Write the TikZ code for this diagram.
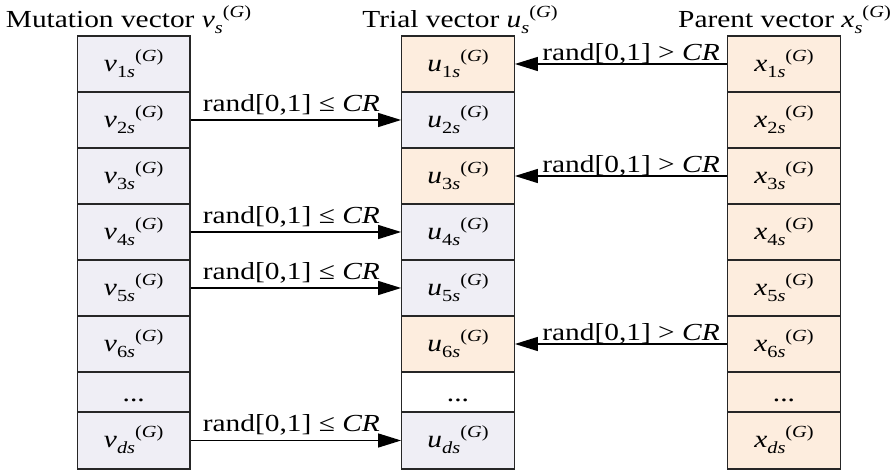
\documentclass[tikz,border=0pt]{standalone}
\usepackage{fontspec}
\setmainfont{Liberation Serif}[FakeStretch=1.2]
\usetikzlibrary{arrows.meta,calc}
\definecolor{lav}{RGB}{239,238,245}
\definecolor{peach}{RGB}{253,237,222}
\newcommand\vecel[2]{\textit{#1}\raisebox{-6bp}{\fontsize{17bp}{17bp}\selectfont #2}\raisebox{10bp}{\fontsize{17bp}{17bp}\selectfont(\textit{G})}}
\begin{document}
\begin{tikzpicture}[x=1bp,y=-1bp,
  every node/.style={font=\fontsize{24.5bp}{29bp}\selectfont},
  cell/.style={draw=black!85,line width=1.3bp,minimum width=112.5bp,minimum height=56bp,inner sep=0pt,
    text height=20bp,text depth=5.4bp,align=center},
  lavcell/.style={cell,fill=lav},
  peachcell/.style={cell,fill=peach},
  whitecell/.style={cell,fill=white},
  arr/.style={line width=1.3bp,-{Triangle[length=23bp,width=14bp]}},
  lbl/.style={anchor=base,inner sep=0pt},
  ttl/.style={anchor=base,inner sep=0pt}]
\useasboundingbox (0,0) rectangle (894,474);
% titles
\node[ttl] (tv) at (128.5,28) {Mutation vector \vecel{v}{\textit{s}}};
\node[ttl] (tu) at (460,28) {Trial vector \vecel{u}{\textit{s}}};
\node[ttl] (tx) at (784.5,28) {Parent vector \vecel{x}{\textit{s}}};
% mutation column
\node[lavcell] (v1) at (133.75,64) {\vecel{v}{1\textit{s}}};
\node[lavcell] (v2) at (133.75,120) {\vecel{v}{2\textit{s}}};
\node[lavcell] (v3) at (133.75,176) {\vecel{v}{3\textit{s}}};
\node[lavcell] (v4) at (133.75,232) {\vecel{v}{4\textit{s}}};
\node[lavcell] (v5) at (133.75,288) {\vecel{v}{5\textit{s}}};
\node[lavcell] (v6) at (133.75,344) {\vecel{v}{6\textit{s}}};
\node[lavcell,minimum height=40bp,text height=22bp,text depth=4bp] (v7) at (133.75,392) {...};
\node[lavcell,minimum height=57bp] (vd) at (133.75,440.5) {\vecel{v}{\textit{ds}}};
% trial column
\node[peachcell] (u1) at (458,64) {\vecel{u}{1\textit{s}}};
\node[lavcell] (u2) at (458,120) {\vecel{u}{2\textit{s}}};
\node[peachcell] (u3) at (458,176) {\vecel{u}{3\textit{s}}};
\node[lavcell] (u4) at (458,232) {\vecel{u}{4\textit{s}}};
\node[lavcell] (u5) at (458,288) {\vecel{u}{5\textit{s}}};
\node[peachcell] (u6) at (458,344) {\vecel{u}{6\textit{s}}};
\node[whitecell,minimum height=40bp,text height=22bp,text depth=4bp] (u7) at (458,392) {...};
\node[lavcell,minimum height=57bp] (ud) at (458,440.5) {\vecel{u}{\textit{ds}}};
% parent column
\node[peachcell] (x1) at (784,64) {\vecel{x}{1\textit{s}}};
\node[peachcell] (x2) at (784,120) {\vecel{x}{2\textit{s}}};
\node[peachcell] (x3) at (784,176) {\vecel{x}{3\textit{s}}};
\node[peachcell] (x4) at (784,232) {\vecel{x}{4\textit{s}}};
\node[peachcell] (x5) at (784,288) {\vecel{x}{5\textit{s}}};
\node[peachcell] (x6) at (784,344) {\vecel{x}{6\textit{s}}};
\node[peachcell,minimum height=40bp,text height=22bp,text depth=4bp] (x7) at (784,392) {...};
\node[peachcell,minimum height=57bp] (xd) at (784,440.5) {\vecel{x}{\textit{ds}}};
% left arrows
\foreach \r in {2,4,5,d}{
  \draw[arr] (v\r.east) -- (u\r.west);
  \node[lbl,xshift=-4.5bp,yshift=8.5bp] (lL\r) at ($(v\r.east)!0.5!(u\r.west)$) {rand[0,1] ≤ \textit{CR}};
}
% right arrows
\foreach \r in {1,3,6}{
  \draw[arr] (x\r.west) -- (u\r.east);
  \node[lbl,xshift=10bp,yshift=3.5bp] (lR\r) at ($(x\r.west)!0.5!(u\r.east)$) {rand[0,1] > \textit{CR}};
}
\end{tikzpicture}
\end{document}
